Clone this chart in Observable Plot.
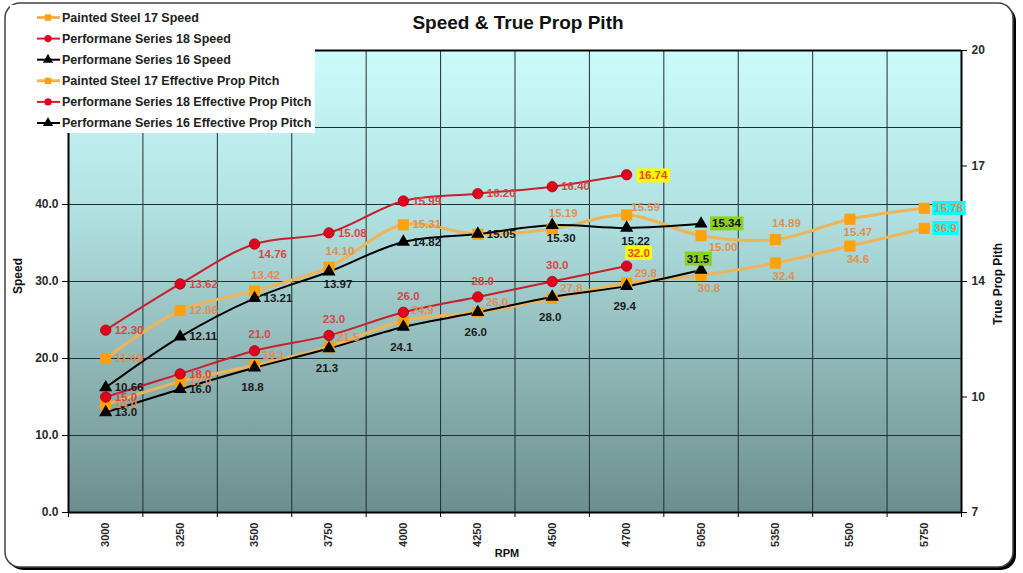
<!DOCTYPE html>
<html><head><meta charset="utf-8">
<script src="https://cdn.jsdelivr.net/npm/d3@7"></script>
<script src="https://cdn.jsdelivr.net/npm/@observablehq/plot@0.6"></script>
<style>body{margin:0;background:#fff;}</style>
</head><body><div id="chart"></div>
<script>
// ---------- data ----------
const rpm = ["3000","3250","3500","3750","4000","4250","4500","4700","5050","5350","5500","5750"];
const ps17Speed = [14.0,17.0,19.1,21.5,24.9,26.0,27.8,29.8,30.8,32.4,34.6,36.9];
const ps17Pitch = [11.49,12.86,13.42,14.10,15.31,15.04,15.19,15.59,15.00,14.89,15.47,15.78];
const ps18Speed = [15.0,18.0,21.0,23.0,26.0,28.0,30.0,32.0];
const ps18Pitch = [12.30,13.62,14.76,15.08,15.99,16.20,16.40,16.74];
const ps16Speed = [13.0,16.0,18.8,21.3,24.1,26.0,28.0,29.4,31.5];
const ps16Pitch = [10.66,12.11,13.21,13.97,14.82,15.05,15.30,15.22,15.34];
const speedTicks = [0,10,20,30,40,50,60];
const pitchTickLabels = ["7","10","14","17","20"];
const seriesNames = ["Painted Steel 17 Speed","Performane Series 18 Speed","Performane Series 16 Speed",
  "Painted Steel 17 Effective Prop Pitch","Performane Series 18 Effective Prop Pitch","Performane Series 16 Effective Prop Pitch"];

// ---------- setup ----------
const W = 1023, H = 573;
const PMIN = 7.09, PMAX = 20.29;               // right axis range
const toS = p => (p - PMIN) / (PMAX - PMIN) * 60; // pitch -> speed-axis units
const pitchTickPos = [0, 15, 30, 45, 60];
const bounds = d3.range(-0.5, 12, 1);

const C = {
  oLine:"#f0b458", oMark:"#ffa10a", oText:"#e08f52",
  rLine:"#c81f2c", rMark:"#e2001a", rText:"#d84646",
  kLine:"#000", kText:"#1a1a1a", hlText:"#e8481e"
};

// label placement codes
const OFF = {
  r:{dx:9,dy:0,a:"start"}, ru:{dx:8,dy:-10,a:"start"}, a:{dx:5,dy:-16,a:"middle"},
  ao:{dx:11,dy:-16,a:"middle"}, ar:{dx:19,dy:-8,a:"middle"}, br:{dx:18,dy:10,a:"middle"},
  b:{dx:-2,dy:20,a:"middle"}, bb:{dx:9,dy:13,a:"middle"}, bo:{dx:8,dy:13,a:"middle"},
  bo2:{dx:22,dy:12,a:"middle"},
  hy:{dx:12,dy:1,a:"start",box:"yellow"}, hya:{dx:12,dy:-13,a:"middle",box:"yellow"},
  hg:{dx:11,dy:0,a:"start",box:"green"}, hga:{dx:-3,dy:-11,a:"middle",box:"green"},
  hc:{dx:10,dy:0,a:"start",box:"cyan"}
};

const series = [
  {name:seriesNames[0], vals:ps17Speed, axis:"speed", line:C.oLine, mark:C.oMark, sym:"square", text:C.oText,
   place:["r","r","ru","ru","ru","ru","ru","ru","bo","bo","bo","hc"]},
  {name:seriesNames[1], vals:ps18Speed, axis:"speed", line:C.rLine, mark:C.rMark, sym:"circle", text:C.rText,
   place:["r","r","a","a","a","a","a","hya"]},
  {name:seriesNames[2], vals:ps16Speed, axis:"speed", line:C.kLine, mark:"#000", sym:"triangle", text:C.kText,
   place:["r","r","b","b","b","b","b","b","hga"]},
  {name:seriesNames[3], vals:ps17Pitch, axis:"pitch", line:C.oLine, mark:C.oMark, sym:"square", text:C.oText,
   place:["r","r","ao","ao","r",null,"ao","ar","bo2","ao","bo","hc"]},
  {name:seriesNames[4], vals:ps18Pitch, axis:"pitch", line:C.rLine, mark:C.rMark, sym:"circle", text:C.rText,
   place:["r","r","br","r","r","r","r","hy"]},
  {name:seriesNames[5], vals:ps16Pitch, axis:"pitch", line:C.kLine, mark:"#000", sym:"triangle", text:C.kText,
   place:["r","r","r","bb","r","r","bb","bb","hg"]}
];

series.forEach(s => {
  s.rows = s.vals.map((v, i) => ({
    i, v, y: s.axis === "speed" ? v : toS(v),
    label: s.axis === "speed" ? v.toFixed(1) : v.toFixed(2),
    code: s.place[i],
    fill: (s.place[i] && s.place[i].startsWith("hy")) ? C.hlText : (s.place[i] && s.place[i].startsWith("hg") ? "#111" : s.text)
  }));
});
const labelRows = series.flatMap(s => s.rows.filter(d => d.code));

const symSize = {circle:5.2, square:6.3, triangle:4.9};

const marks = [
  Plot.frame({fill:"url(#bgGrad)", stroke:"none"}),
  Plot.gridY(speedTicks, {stroke:"#1d3131", strokeOpacity:1, strokeWidth:1}),
  Plot.ruleX(bounds.slice(1, -1), {stroke:"#1d3131", strokeWidth:1}),
  Plot.ruleY([0], {stroke:"#000", strokeWidth:2}),
  Plot.ruleY([60], {stroke:"#000", strokeWidth:2}),
  Plot.ruleX([-0.5], {stroke:"#000", strokeWidth:2}),
  Plot.ruleX([11.5], {stroke:"#000", strokeWidth:2}),
  Plot.axisY(speedTicks, {anchor:"left", tickFormat:d => d.toFixed(1), tickSize:6, tickPadding:4,
    label:null, fontSize:12, fontWeight:"bold", fill:"#2a2a2a", stroke:"#000"}),
  Plot.axisY(pitchTickPos, {anchor:"right", tickFormat:d => pitchTickLabels[pitchTickPos.indexOf(d)],
    tickSize:5, tickPadding:5, label:null, fontSize:12, fontWeight:"bold", fill:"#2a2a2a", stroke:"#000"}),
  Plot.axisX(d3.range(0, 12), {anchor:"bottom", tickFormat:i => rpm[i], tickRotate:-90, tickSize:0,
    tickPadding:10, label:null, fontSize:11, fontWeight:"bold", fill:"#2a2a2a"}),
  Plot.axisX(bounds, {anchor:"bottom", tickFormat:() => "", tickSize:5, label:null, stroke:"#000"}),
  ...series.map(s => Plot.line(s.rows, {x:"i", y:"y", stroke:s.line, strokeWidth: s.sym === "square" ? 3 : 2,
    curve:"catmull-rom"})),
  ...series.map(s => Plot.dot(s.rows, {x:"i", y:"y", symbol:s.sym, r:symSize[s.sym], fill:s.mark,
    stroke: s.sym === "circle" ? "#a8001a" : "none", strokeWidth: 0.8})),
  ...Object.entries(OFF).map(([code, o]) => {
    const opts = {x:"i", y:"y", text:"label", fill:"fill", dx:o.dx, dy:o.dy, textAnchor:o.a,
      fontSize:11.5, fontWeight:"bold"};
    if (o.box) opts.className = "hl-" + o.box;
    return Plot.text(labelRows.filter(d => d.code === code), opts);
  })
];

const chart = Plot.plot({
  width: W, height: H,
  marginLeft: 68, marginRight: 62, marginTop: 50, marginBottom: 61,
  x: {type:"linear", domain:[-0.5, 11.5], label:null},
  y: {type:"linear", domain:[0, 60], label:null},
  color: {type:"identity"},
  style: {fontFamily:"Arial, 'Liberation Sans', sans-serif", background:"transparent", color:"#222", overflow:"visible"},
  marks
});
document.getElementById("chart").append(chart);

// ---------- decoration ----------
const svg = d3.select(chart);
const defs = svg.insert("defs", ":first-child");
const g = defs.append("linearGradient").attr("id","bgGrad").attr("x1",0).attr("y1",0).attr("x2",0).attr("y2",1);
[[0,"#cbfbfb"],[0.35,"#b1e1e1"],[0.7,"#8db3b3"],[1,"#6d8e8e"]].forEach(([o,c]) =>
  g.append("stop").attr("offset",o).attr("stop-color",c));

// outer frame with shadow (drawn beneath plot content)
svg.insert("rect", ":first-child").attr("x",5).attr("y",3).attr("width",1008).attr("height",564)
  .attr("rx",15).attr("fill","#fff").attr("stroke","#444").attr("stroke-width",1.5);
svg.insert("rect", ":first-child").attr("x",8).attr("y",6).attr("width",1008).attr("height",564)
  .attr("rx",15).attr("fill","#000");

// highlight boxes behind last-point labels
[["hl-yellow","#ffff00"],["hl-green","#8ccf1e"],["hl-cyan","#00ffff"]].forEach(([cls, col]) => {
  svg.selectAll("g." + cls + " text").each(function() {
    const t = this, b = t.getBBox();
    const r = d3.select(t.parentNode).insert("rect", () => t)
      .attr("x", b.x - 2).attr("y", b.y - 1).attr("width", b.width + 4).attr("height", b.height + 2)
      .attr("fill", col);
    if (t.getAttribute("transform")) r.attr("transform", t.getAttribute("transform"));
  });
});

// title
svg.append("text").attr("x",518).attr("y",29).attr("text-anchor","middle")
  .attr("font-size",19).attr("font-weight","bold").attr("fill","#111").text("Speed & True Prop Pith");
// axis titles
svg.append("text").attr("transform","translate(22,276) rotate(-90)").attr("text-anchor","middle")
  .attr("font-size",12).attr("font-weight","bold").attr("fill","#111").text("Speed");
svg.append("text").attr("transform","translate(1002,284) rotate(-90)").attr("text-anchor","middle")
  .attr("font-size",12).attr("font-weight","bold").attr("fill","#111").text("True Prop Pith");
svg.append("text").attr("x",507).attr("y",557).attr("text-anchor","middle")
  .attr("font-size",11).attr("font-weight","bold").attr("fill","#111").text("RPM");

// legend
const leg = svg.append("g").attr("text-anchor","start");
leg.append("rect").attr("x",10).attr("y",5).attr("width",305).attr("height",128).attr("fill","#fff");
series.forEach((s, k) => {
  const y = 17.5 + k * 21.1;
  leg.append("line").attr("x1",37).attr("x2",60).attr("y1",y).attr("y2",y)
    .attr("stroke",s.line).attr("stroke-width", s.sym === "square" ? 3 : 2);
  const sym = s.sym === "circle" ? d3.symbolCircle : s.sym === "square" ? d3.symbolSquare : d3.symbolTriangle;
  leg.append("path").attr("d", d3.symbol(sym, s.sym === "triangle" ? 45 : 40)())
    .attr("transform", `translate(48,${y})`).attr("fill", s.mark);
  leg.append("text").attr("x",62).attr("y",y).attr("dy","0.35em").attr("font-size",12.5)
    .attr("text-anchor","start").attr("font-weight","bold").attr("fill","#222").text(s.name);
});
</script>
</body></html>
